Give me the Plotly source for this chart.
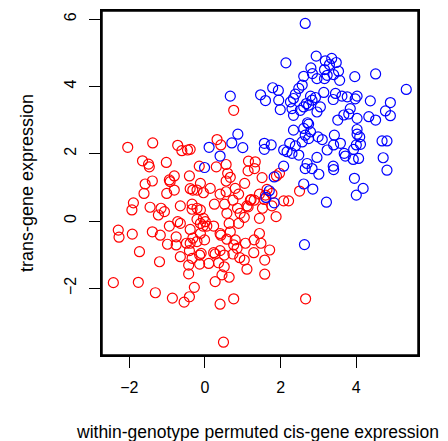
import plotly.graph_objects as go

# red group (x, y)
red_x = [-2.04,-1.38,-0.72,-0.61,-0.46,-0.39,0.32,0.42,-1.65,-1.49,-1.47,-1.02,-0.15,0.30,0.56,1.15,1.14,0.60,0.67,0.56,
         -0.41,-0.81,-0.94,-0.92,-1.39,-1.58,-0.12,0.14,-0.04,-0.39,-0.32,-0.21,-0.81,-1.01,-1.61,0.40,0.56,0.80,1.05,0.89,
         0.74,0.52,1.20,1.11,0.86,0.25,-0.34,-0.65,-0.34,-0.21,-0.12,-1.45,-1.89,-1.93,-1.16,-1.07,-1.23,0.58,0.93,1.04,
         -0.21,-0.04,-0.12,0.01,-0.05,0.05,0.23,-0.39,-0.65,-0.72,-0.94,0.64,0.89,-2.29,-1.92,-1.39,-1.18,0.40,0.67,1.30,0.76,
         1.31,1.51,1.97,1.89,2.50,2.08,2.21,1.64,1.60,1.77,1.57,1.22,1.52,1.44,1.88,1.14,
         1.33,1.44,1.77,1.44,
         -2.27,-1.73,-1.20,-0.99,-0.76,-0.76,-0.49,-0.39,-0.21,-0.32,-0.12,-0.01,-0.65,-0.41,-0.34,-0.43,-0.43,-0.14,-0.14,-0.10,
         0.10,0.23,0.27,0.36,0.40,0.51,0.51,0.42,0.58,0.80,0.76,0.85,0.74,0.92,1.04,1.11,1.07,1.30,1.29,0.45,
         0.64,0.27,-2.42,-1.76,-1.31,-0.86,-0.55,-0.41,-0.28,0.40,0.76,0.49,
         1.48,1.71,1.58,1.58,2.66]
red_y = [2.19,2.32,2.25,2.09,2.11,2.13,2.42,2.26,1.79,1.69,1.61,1.74,1.63,1.61,1.68,1.78,1.49,1.42,1.30,1.19,
         1.34,1.34,1.22,1.17,1.19,1.10,1.12,0.97,0.84,0.96,0.92,0.92,0.92,0.82,0.82,0.80,0.87,0.97,1.12,0.80,
         0.62,0.50,0.62,0.45,0.38,0.50,0.50,0.45,0.35,0.38,0.33,0.41,0.54,0.33,0.38,0.28,0.18,0.23,0.23,0.11,
         0.05,0.08,-0.07,-0.02,-0.15,-0.15,-0.15,-0.25,-0.07,-0.02,-0.15,-0.07,-0.07,-0.27,-0.39,-0.32,-0.42,-0.37,-0.32,0.62,3.29,
         1.56,1.29,1.42,1.34,0.89,0.60,0.60,0.94,0.77,0.82,0.64,0.64,0.38,0.08,0.13,0.42,
         1.76,0.80,0.45,-0.37,
         -0.48,-0.91,-1.21,-0.69,-0.47,-0.71,-0.66,-0.66,-0.61,-0.51,-0.37,-0.56,-1.06,-0.88,-1.11,-1.31,-1.57,-1.01,-1.28,-0.96,
         -1.26,-0.94,-0.98,-1.24,-0.88,-1.01,-1.36,-0.42,-0.54,-0.56,-0.71,-0.81,-0.98,-1.09,-1.16,-1.43,-0.66,-0.56,-0.94,-1.60,
         -1.67,-1.80,-1.83,-1.82,-2.13,-2.29,-2.41,-2.25,-1.97,-2.47,-2.31,-3.60,
         -0.66,-0.86,-1.16,-1.58,-2.31]

# blue group (x, y)
blue_x = [2.65,2.94,2.14,3.35,3.18,3.47,3.29,2.80,3.16,3.53,4.51,2.84,2.61,3.23,3.40,3.96,2.96,3.16,3.56,2.57,
          2.48,5.32,1.79,1.94,1.47,1.60,2.39,3.14,3.45,3.62,3.76,4.02,3.97,3.39,2.79,2.92,2.34,1.95,2.26,4.37,
          4.90,2.68,2.83,3.05,2.61,2.74,1.99,2.30,2.96,2.52,3.84,4.77,2.34,3.67,3.80,4.02,4.33,4.51,4.90,3.51,2.71,0.67,
          2.34,2.61,2.74,2.65,2.79,2.99,3.10,2.74,2.57,2.39,2.24,2.08,2.17,2.30,2.48,1.57,1.75,1.57,3.42,3.40,
          3.58,4.02,4.02,4.09,4.00,4.11,3.93,3.68,3.71,3.92,4.06,4.68,4.81,3.23,2.96,2.70,2.65,2.83,3.01,3.39,
          3.40,2.08,1.83,4.71,4.81,3.95,4.18,4.00,2.61,2.85,3.21,1.70,1.61,1.83,
          0.11,0.40,0.71,0.87,1.00,-0.01,2.63]
blue_y = [5.87,4.90,4.70,4.83,4.76,4.71,4.65,4.55,4.50,4.45,4.37,4.38,4.30,4.33,4.35,4.29,4.23,4.23,4.18,4.04,
          3.94,3.91,3.96,3.88,3.75,3.58,3.77,3.82,3.79,3.71,3.69,3.71,3.63,3.61,3.71,3.67,3.64,3.59,3.54,3.57,
          3.52,3.49,3.59,3.39,3.39,3.44,3.31,3.34,3.24,3.29,3.34,3.27,3.14,3.15,3.18,3.05,3.10,3.00,3.13,3.00,2.92,3.71,
          2.70,2.75,2.88,2.55,2.65,2.50,2.42,2.45,2.35,2.23,2.31,2.11,2.06,2.01,1.96,2.31,2.26,2.13,2.55,2.26,
          2.31,2.72,2.58,2.50,2.26,2.28,2.13,2.01,1.93,1.83,1.86,2.38,2.38,2.11,1.89,1.71,1.56,1.56,1.39,1.63,
          1.53,1.63,1.31,1.88,1.51,1.27,0.97,0.77,1.10,0.95,0.56,0.90,0.70,0.54,
          2.19,1.93,2.32,2.58,2.18,1.59,-0.70]

x_ticks = [-2, 0, 2, 4]
y_ticks = [-2, 0, 2, 4, 6]
x_title = "within-genotype permuted cis-gene expression"
y_title = "trans-gene expression"

FONT = "Liberation Sans, Arial, Helvetica, sans-serif"

fig = go.Figure()
fig.add_trace(go.Scatter(x=red_x, y=red_y, mode="markers",
                         marker=dict(symbol="circle-open", size=10, color="#ff0000",
                                     line=dict(width=1.2, color="#ff0000"))))
fig.add_trace(go.Scatter(x=blue_x, y=blue_y, mode="markers",
                         marker=dict(symbol="circle-open", size=10, color="#0000ff",
                                     line=dict(width=1.2, color="#0000ff"))))

axis_common = dict(showgrid=False, zeroline=False, showline=True, mirror=True,
                   linecolor="black", linewidth=1.5, automargin=False,
                   ticks="outside", ticklen=11, tickcolor="black", tickwidth=1,
                   tickfont=dict(family=FONT, size=16, color="black"))

fig.update_layout(
    width=440, height=433,
    margin=dict(l=94, r=30, t=3, b=86),
    paper_bgcolor="white", plot_bgcolor="white",
    showlegend=False,
    font=dict(family=FONT, size=16, color="black"),
    xaxis=dict(range=[-2.72, 5.63], tickvals=x_ticks, ticklabelstandoff=6, **axis_common),
    yaxis=dict(range=[-3.98, 6.24], tickvals=y_ticks, tickangle=-90, ticklabelstandoff=7, **axis_common),
    shapes=[dict(type="rect", xref="paper", yref="paper", x0=0, y0=0, x1=1, y1=1,
                 line=dict(color="black", width=1.5), layer="above")],
    annotations=[
        dict(text=x_title, xref="paper", yref="paper", x=0.5, y=0, yshift=-77, xshift=-3,
             xanchor="center", yanchor="middle", showarrow=False,
             font=dict(family=FONT, size=17.5, color="black")),
        dict(text=y_title, xref="paper", yref="paper", x=0, y=0.5, xshift=-75,
             xanchor="center", yanchor="middle", textangle=-90, showarrow=False,
             font=dict(family=FONT, size=18, color="black")),
    ],
)

fig.write_html("out.html")
